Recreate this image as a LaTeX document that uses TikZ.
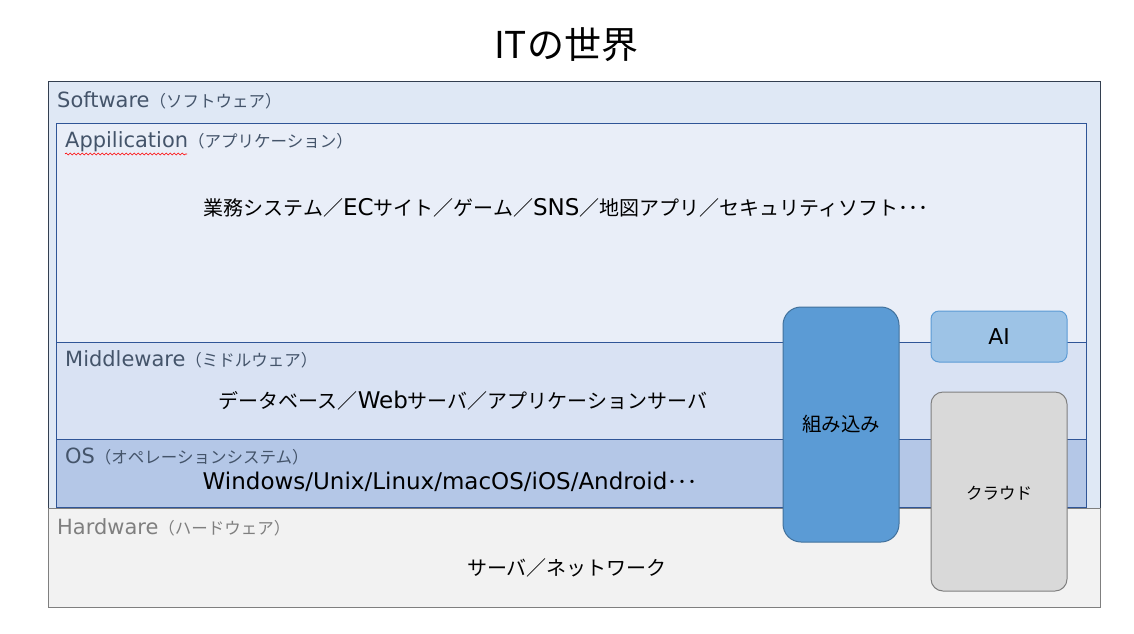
\documentclass[tikz,border=0pt]{standalone}
\usepackage{fontspec}
\setmainfont{Noto Sans CJK JP}
\newfontfamily\latL{DejaVu Sans}[Scale=1.27]
\newfontfamily\latB{DejaVu Sans}[Scale=1.15]
\usetikzlibrary{decorations.pathmorphing}
\definecolor{softfill}{HTML}{DFE8F5}
\definecolor{softline}{HTML}{333F50}
\definecolor{appfill}{HTML}{E9EEF8}
\definecolor{midfill}{HTML}{D9E2F3}
\definecolor{osfill}{HTML}{B4C7E7}
\definecolor{layline}{HTML}{2F5597}
\definecolor{hardfill}{HTML}{F2F2F2}
\definecolor{hardline}{HTML}{7F7F7F}
\definecolor{tagcol}{HTML}{44546A}
\definecolor{embfill}{HTML}{5B9BD5}
\definecolor{embline}{HTML}{41719C}
\definecolor{aifill}{HTML}{9DC3E6}
\definecolor{cloudfill}{HTML}{D9D9D9}
\tikzset{layer/.style={draw=layline, line width=1pt}, tag/.style={anchor=west, text=tagcol, font=\fontsize{16.5}{18}\selectfont, inner sep=0pt},
  body/.style={font=\fontsize{20}{24}\selectfont, inner sep=0pt}, pill/.style={rounded corners=#1, line width=1pt}}

\begin{document}
\begin{tikzpicture}[x=1pt,y=-1pt]
  \useasboundingbox[fill=white] (0,0) rectangle (1134,633);
  \node[font=\fontsize{37}{44}\selectfont] (title) at (566,45) {ITの世界};
  % layers
  \draw[fill=softfill, draw=softline, line width=1pt] (48,81) rectangle (1100,508);
  \draw[fill=hardfill, draw=hardline, line width=1pt] (48,508) rectangle (1100,607);
  \draw[layer, fill=appfill] (56,123) rectangle (1086,342);
  \draw[layer, fill=midfill] (56,342) rectangle (1086,439);
  \draw[layer, fill=osfill] (56,439) rectangle (1086,507);
  \node[tag] (soft) at (57,100) {{\latL Software}（ソフトウェア）};
  \node[tag] (app) at (65,142) {{\latL Appilication}（アプリケーション）};
  \draw[red, line width=0.6pt, decorate, decoration={snake, amplitude=1pt, segment length=4pt}] (65,154) -- (187,154);
  \node[tag] (mid) at (65,359) {{\latL Middleware}（ミドルウェア）};
  \node[tag] (os) at (65,457) {{\latL OS}（オペレーションシステム）};
  \node[tag, text=hardline] (hard) at (57,527) {{\latL Hardware}（ハードウェア）};
  \node[body] (apps) at (566,208) {業務システム／{\latB EC}サイト／ゲーム／{\latB SNS}／地図アプリ／セキュリティソフト･･･};
  \node[body] (mids) at (463,401) {データベース／{\latB Web}サーバ／アプリケーションサーバ};
  \node[body] (oss) at (450,482) {{\latB Windows/Unix/Linux/macOS/iOS/Android}･･･};
  \node[body] (hards) at (567,568) {サーバ／ネットワーク};
  % side boxes
  \draw[pill=18pt, fill=embfill, draw=embline] (783,307) rectangle (899,542);
  \draw[pill=8pt, fill=aifill, draw=embfill] (931,311) rectangle (1067,362);
  \draw[pill=12pt, fill=cloudfill, draw=hardline] (931,392) rectangle (1067,591);
  \node[font=\fontsize{19.5}{22}\selectfont] (emb) at (841,424) {組み込み};
  \node[font=\fontsize{19}{22}\latB] (ai) at (999,337) {AI};
  \node[font=\fontsize{16.5}{20}\selectfont] (cloud) at (999,493) {クラウド};
\end{tikzpicture}
\end{document}
